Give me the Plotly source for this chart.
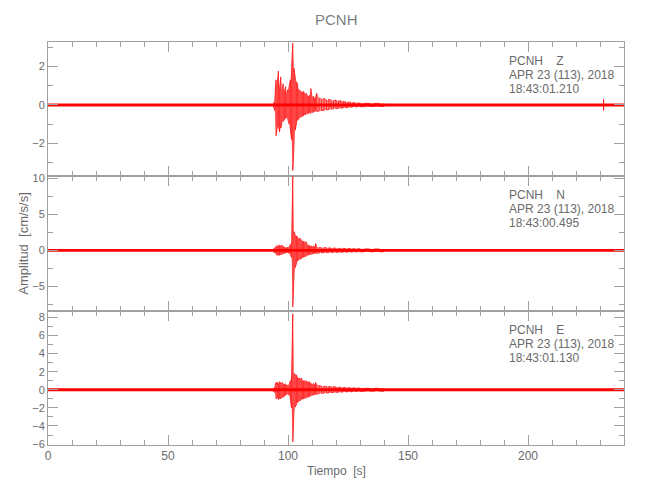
import plotly.graph_objects as go
from plotly.subplots import make_subplots

# ---------------- data ----------------
station = "PCNH"
components = ["Z", "N", "E"]
start_times = ["18:43:01.210", "18:43:00.495", "18:43:01.130"]
date_label = "APR 23 (113), 2018"

# time samples of the event envelope (s)
t_ev = [94.0, 94.5, 95.0, 95.5, 96.0, 96.5, 97.0, 97.5, 98.0, 98.5, 99.0, 99.5,
        100.0, 100.5, 101.0, 101.5, 102.0, 102.5, 103.0, 103.5, 104.0, 104.5,
        105.0, 105.5, 106.0, 106.5, 107.0, 107.5, 108.0, 108.5, 109.0, 109.5,
        110.0, 110.5, 111.0, 111.5, 112.0, 113, 114, 115, 116, 117, 118, 119,
        120, 121, 122, 123, 124, 125, 126, 127, 128, 129, 130, 132, 134, 136,
        138, 140]

z_up = [0.12, 0.3, 1.3, 1.0, 1.75, 0.9, 1.45, 0.8, 1.1, 0.7, 0.95, 0.6,
        0.8, 1.0, 1.3, 2.0, 3.2, 1.9, 1.4, 1.2, 1.1, 0.8,
        0.75, 0.7, 0.65, 0.7, 0.55, 0.6, 0.5, 0.45, 0.5, 0.85,
        0.4, 0.45, 0.35, 0.4, 0.6, 0.35, 0.3, 0.35, 0.25, 0.3, 0.25, 0.22,
        0.25, 0.2, 0.22, 0.18, 0.16, 0.15, 0.13, 0.12, 0.11, 0.1, 0.1, 0.09,
        0.08, 0.08, 0.08, 0.08]
z_lo = [-0.12, -0.3, -1.6, -1.2, -1.1, -1.4, -1.2, -0.9, -0.85, -0.75, -0.7, -0.65,
        -0.8, -1.0, -1.3, -1.8, -3.4, -2.15, -1.3, -1.0, -0.8, -0.75,
        -0.65, -0.6, -0.6, -0.55, -0.5, -0.5, -0.45, -0.45, -0.4, -0.45,
        -0.35, -0.4, -0.35, -0.3, -0.35, -0.3, -0.3, -0.28, -0.25, -0.25, -0.22, -0.2,
        -0.2, -0.18, -0.17, -0.16, -0.15, -0.14, -0.12, -0.11, -0.1, -0.1, -0.09, -0.09,
        -0.08, -0.08, -0.08, -0.08]

n_up = [0.25, 0.35, 0.5, 0.7, 0.6, 0.75, 0.6, 0.7, 0.5, 0.45, 0.35, 0.4,
        0.35, 0.5, 0.8, 1.2, 10.3, 2.6, 2.2, 2.0, 1.9, 1.6,
        1.7, 1.5, 1.2, 1.3, 1.1, 1.2, 0.8, 0.7, 0.65, 0.6,
        0.55, 0.6, 0.5, 0.95, 0.45, 0.4, 0.35, 0.4, 0.35, 0.35, 0.3, 0.33,
        0.3, 0.28, 0.27, 0.28, 0.25, 0.25, 0.24, 0.23, 0.22, 0.22, 0.21, 0.2,
        0.2, 0.2, 0.2, 0.2]
n_lo = [-0.25, -0.35, -0.5, -0.7, -0.65, -0.7, -0.6, -0.55, -0.5, -0.4, -0.35, -0.35,
        -0.35, -0.4, -0.6, -1.0, -7.9, -3.6, -2.4, -1.9, -1.5, -1.3,
        -1.2, -1.2, -1.0, -0.95, -0.9, -0.85, -0.7, -0.65, -0.6, -0.55,
        -0.5, -0.5, -0.45, -0.45, -0.4, -0.38, -0.35, -0.35, -0.33, -0.32, -0.3, -0.3,
        -0.28, -0.27, -0.26, -0.25, -0.25, -0.24, -0.23, -0.22, -0.22, -0.21, -0.21, -0.2,
        -0.2, -0.2, -0.2, -0.2]

e_up = [0.2, 0.3, 0.8, 0.85, 0.7, 0.9, 0.75, 0.8, 0.7, 0.6, 0.65, 0.5,
        0.5, 0.6, 1.0, 2.0, 8.4, 1.8, 1.7, 1.65, 1.3, 1.3,
        1.2, 1.3, 1.0, 1.0, 0.95, 1.0, 0.9, 0.85, 0.9, 0.7,
        0.6, 0.7, 0.6, 0.8, 0.55, 0.5, 0.4, 0.4, 0.35, 0.38, 0.33, 0.35,
        0.3, 0.28, 0.28, 0.25, 0.24, 0.23, 0.22, 0.2, 0.2, 0.19, 0.18, 0.17,
        0.16, 0.16, 0.16, 0.16]
e_lo = [-0.2, -0.3, -1.0, -0.9, -1.1, -0.9, -1.0, -0.8, -0.85, -0.7, -0.6, -0.5,
        -0.5, -0.6, -1.2, -2.0, -5.75, -2.4, -1.9, -1.65, -1.4, -1.3,
        -1.2, -1.1, -1.0, -1.0, -0.95, -0.9, -0.85, -0.8, -0.75, -0.7,
        -0.6, -0.6, -0.55, -0.5, -0.5, -0.45, -0.4, -0.38, -0.35, -0.35, -0.32, -0.3,
        -0.28, -0.27, -0.26, -0.25, -0.24, -0.23, -0.22, -0.2, -0.2, -0.19, -0.18, -0.17,
        -0.16, -0.16, -0.16, -0.16]

# background noise level over the whole record
noise_t = [0, 240]
noise_amp = [0.08, 0.2, 0.16]

# isolated small spikes
z_spike_t = [231.5]
z_spike_up = [0.3]
z_spike_lo = [-0.3]

y_ranges = [[-3.7, 3.26], [-8.4, 10.3], [-6.1, 8.74]]
y_dticks = [2, 5, 2]
y_minor = [1, 2.5, 1]

# ---------------- figure ----------------
RED = "#ff0000"
GREY = "#a0a0a0"
TXT = "#6a6a6a"
FONT = "Liberation Sans, Arial, sans-serif"

fig = make_subplots(rows=3, cols=1, shared_xaxes=True, vertical_spacing=0)


def zigzag(ts, ups, los):
    xs, ys = [], []
    for i, (t, u, l) in enumerate(zip(ts, ups, los)):
        xs += [t, t]
        ys += [u, l] if i % 2 == 0 else [l, u]
    return xs, ys


envs = [(z_up, z_lo), (n_up, n_lo), (e_up, e_lo)]
for r in range(3):
    a = noise_amp[r]
    fig.add_trace(go.Scatter(
        x=noise_t + noise_t[::-1], y=[a] * len(noise_t) + [-a] * len(noise_t),
        fill="toself", fillcolor=RED, line=dict(color=RED, width=0),
        mode="lines", hoverinfo="skip", showlegend=False), row=r + 1, col=1)
    up, lo = envs[r]
    fig.add_trace(go.Scatter(
        x=t_ev + t_ev[::-1], y=up + lo[::-1], fill="toself",
        fillcolor="rgba(255,0,0,0.45)", line=dict(width=0), mode="lines",
        hoverinfo="skip", showlegend=False), row=r + 1, col=1)
    xs, ys = zigzag(t_ev, up, lo)
    fig.add_trace(go.Scatter(x=xs, y=ys, mode="lines",
                             line=dict(color=RED, width=0.7),
                             hoverinfo="skip", showlegend=False),
                  row=r + 1, col=1)

xs, ys = zigzag(z_spike_t, z_spike_up, z_spike_lo)
fig.add_trace(go.Scatter(x=xs, y=ys, mode="lines", line=dict(color=RED, width=1),
                         hoverinfo="skip", showlegend=False), row=1, col=1)

for r in range(3):
    fig.update_xaxes(
        range=[0, 240], showline=True, linecolor=GREY, linewidth=1, mirror="ticks",
        ticks="inside", ticklen=10, tickcolor=GREY, dtick=50, tick0=0,
        minor=dict(ticks="inside", ticklen=5, dtick=10, tickcolor=GREY, showgrid=False),
        showgrid=False, zeroline=False, showticklabels=(r == 2),
        tickfont=dict(family=FONT, size=12, color=TXT),
        row=r + 1, col=1)
    fig.update_yaxes(
        range=y_ranges[r], showline=True, linecolor=GREY, linewidth=1, mirror="ticks",
        ticks="inside", ticklen=10, tickcolor=GREY, dtick=y_dticks[r], tick0=0,
        minor=dict(ticks="inside", ticklen=5, dtick=y_minor[r], tick0=0,
                   tickcolor=GREY, showgrid=False),
        showgrid=False, zeroline=False,
        tickfont=dict(family=FONT, size=11, color=TXT),
        row=r + 1, col=1)

# text annotations inside each panel
for r in range(3):
    xref = "x domain" if r == 0 else f"x{r + 1} domain"
    yref = "y domain" if r == 0 else f"y{r + 1} domain"
    lines = [station + "\u00a0\u00a0\u00a0\u00a0" + components[r], date_label, start_times[r]]
    for k, txt in enumerate(lines):
        fig.add_annotation(text=txt, xref=xref, yref=yref, x=0.797,
                           y=0.8585 - k * 0.1042, xanchor="left", yanchor="middle",
                           showarrow=False, font=dict(family=FONT, size=12, color=TXT))

fig.add_annotation(text=station, xref="paper", yref="paper", x=0.5, y=1.0546,
                   xanchor="center", yanchor="middle", showarrow=False,
                   font=dict(family=FONT, size=15, color="#808080"))
fig.add_annotation(text="Tiempo\u00a0\u00a0[s]", xref="paper", yref="paper", x=0.5,
                   y=-0.0645, xanchor="center", yanchor="middle", showarrow=False,
                   font=dict(family=FONT, size=12, color=TXT))
fig.add_annotation(text="Amplitud\u00a0\u00a0[cm/s/s]", xref="paper", yref="paper",
                   x=-0.043, y=0.5, xanchor="center", yanchor="middle", textangle=-90,
                   showarrow=False, font=dict(family=FONT, size=13, color=TXT))

# the page adds an 8px body margin, so the figure is 8px smaller on each axis
fig.update_layout(width=642, height=492, margin=dict(l=40, r=26, t=34, b=55),
                  plot_bgcolor="white", paper_bgcolor="white", showlegend=False)

fig.write_html("out.html")
